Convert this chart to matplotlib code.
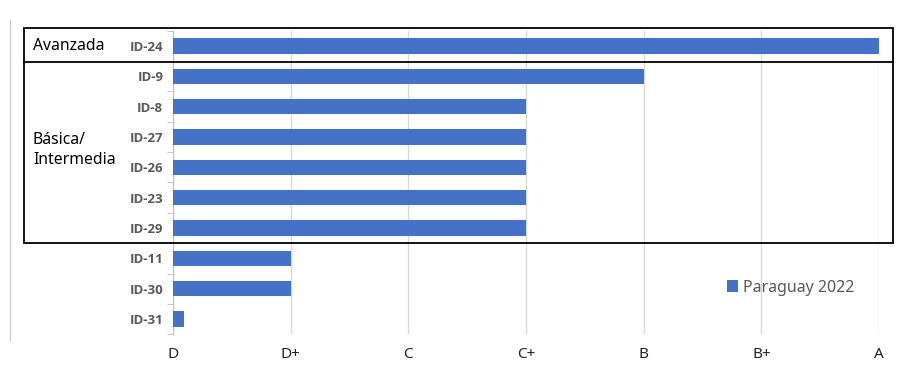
import numpy as np
import matplotlib.pyplot as plt
from matplotlib.patches import Rectangle
from matplotlib.lines import Line2D

# data
ids = ['ID-24', 'ID-9', 'ID-8', 'ID-27', 'ID-26', 'ID-23', 'ID-29', 'ID-11', 'ID-30', 'ID-31']
scores = [6, 4, 3, 3, 3, 3, 3, 1, 1, 0.09]
grades = ['D', 'D+', 'C', 'C+', 'B', 'B+', 'A']
series_name = 'Paraguay 2022'

plt.rcParams['font.family'] = ['Noto Sans', 'DejaVu Sans']

fig = plt.figure(figsize=(9, 3.65), dpi=100)
ax = fig.add_axes([173/900, 1-334.2/365, (879-173)/900, (334.2-30.8)/365])

y = np.arange(len(ids))
ax.barh(y, scores, height=0.5, color='#4472C4', label=series_name, zorder=3)
ax.set_ylim(len(ids)-0.5, -0.5)
ax.set_xlim(0, 6)
ax.set_xticks(range(len(grades)))
ax.set_xticklabels(grades, fontsize=11, color='#222222')
ax.set_yticks(y)
ax.set_yticklabels(ids, fontsize=9.5, fontweight='bold', color='#595959',
                   family=['Open Sans', 'DejaVu Sans'])
ax.set_yticks(np.arange(-0.5, len(ids)), minor=True)
ax.tick_params(axis='y', which='major', length=0, pad=7)
ax.tick_params(axis='y', which='minor', length=4, color='#BFBFBF', direction='out')
ax.tick_params(axis='x', length=0, pad=9)
ax.grid(axis='x', color='#D9D9D9', linewidth=1, zorder=0)
for s in ['top', 'right', 'bottom']:
    ax.spines[s].set_visible(False)
ax.spines['left'].set_color('#BFBFBF')

leg = ax.legend(loc='lower right', bbox_to_anchor=(0.985, 0.08), frameon=False,
                fontsize=11.5, handlelength=0.7, handleheight=0.7, handletextpad=0.3)
for t in leg.get_texts():
    t.set_color('#595959')

# group boxes
fig.add_artist(Rectangle((24/900, 1-243/365), (893-24)/900, (243-28)/365,
                         fill=False, edgecolor='black', linewidth=1.3, transform=fig.transFigure))
fig.add_artist(Line2D([24/900, 893/900], [1-62/365, 1-62/365], color='black',
                      linewidth=1.3, transform=fig.transFigure))
fig.add_artist(Line2D([10/900, 10/900], [1-20/365, 1-340/365], color='#D0D0D0',
                      linewidth=1, transform=fig.transFigure))

fig.text(33/900, 1-46/365, 'Avanzada', fontsize=11.3, va='center', ha='left')
fig.text(33/900, 1-150/365, 'Básica/\nIntermedia', fontsize=11.3, va='center', ha='left',
         linespacing=1.35,
         bbox=dict(facecolor='white', edgecolor='none', pad=1))

fig.savefig('out.png', dpi=100)
